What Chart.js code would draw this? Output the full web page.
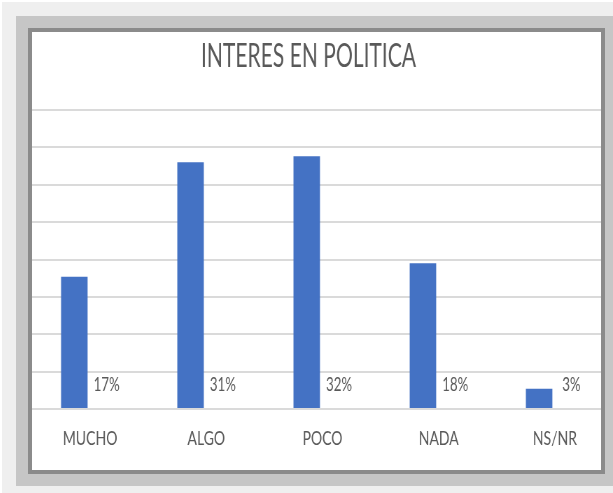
<!DOCTYPE html>
<html>
<head>
<meta charset="utf-8">
<script src="https://cdn.jsdelivr.net/npm/chart.js@4.4.1/dist/chart.umd.min.js"></script>
<style>
  html, body { margin: 0; padding: 0; background: #fff; }
  body { width: 613px; height: 493px; position: relative; overflow: hidden; }
  #marco {
    position: absolute; left: 32px; top: 32px; width: 569px; height: 438px;
    background: #fff; overflow: hidden;
    box-shadow: 0 0 0 4px #8b8b8b, 0 0 0 16px #c6c6c6, 0 0 0 30px #efefef;
  }
  /* la captura original está comprimida en horizontal */
  #grafico { position: absolute; left: 0; top: 0; transform: scaleX(0.7); transform-origin: 0 0; }
</style>
</head>
<body>
<div id="marco"><canvas id="grafico" width="830" height="438"></canvas></div>
<script>
// Datos de la gráfica
var categorias = ['MUCHO', 'ALGO', 'POCO', 'NADA', 'NS/NR'];
var valores = [17.7, 33.0, 33.8, 19.5, 2.7];
var etiquetas = ['17%', '31%', '32%', '18%', '3%'];
var titulo = 'INTERES EN POLITICA';

var grisTexto = '#595959';
var fuente = "Lato, 'Liberation Sans', sans-serif";

// Título dibujado a mano (el original no está centrado en el lienzo)
var tituloPlugin = {
    id: 'tituloPlugin',
    afterDraw: function(chart) {
        var ctx = chart.ctx;
        ctx.save();
        ctx.translate(395, 0);
        ctx.scale(0.94, 1);
        ctx.font = '32px ' + fuente;
        ctx.fillStyle = grisTexto;
        ctx.textAlign = 'center';
        ctx.textBaseline = 'alphabetic';
        ctx.fillText(titulo, 0, 35);
        ctx.restore();
    }
};

// Etiquetas de porcentaje junto a cada barra (posición de la segunda serie)
var etiquetasPlugin = {
    id: 'etiquetasPlugin',
    afterDatasetsDraw: function(chart) {
        var ctx = chart.ctx;
        var meta = chart.getDatasetMeta(1);
        var base = chart.scales.y.getPixelForValue(0);
        ctx.save();
        ctx.font = '19px ' + fuente;
        ctx.fillStyle = grisTexto;
        ctx.textAlign = 'center';
        ctx.textBaseline = 'alphabetic';
        meta.data.forEach(function(el, i) {
            ctx.fillText(etiquetas[i], el.x + 1, base - 18);
        });
        ctx.restore();
    }
};

var ctxInteres = document.getElementById('grafico').getContext('2d');
var interesChart = new Chart(ctxInteres, {
    type: 'bar',
    data: {
        labels: categorias,
        datasets: [{
            label: 'Interés',
            data: valores,
            backgroundColor: '#4472C4',
            borderWidth: 0
        }, {
            label: 'Etiquetas',
            data: categorias.map(function() { return 0; }),
            backgroundColor: 'rgba(0,0,0,0)',
            borderWidth: 0
        }]
    },
    options: {
        responsive: false,
        animation: false,
        devicePixelRatio: 1,
        categoryPercentage: 0.543,
        barPercentage: 0.84,
        layout: { padding: { top: 78, left: 0, right: 0, bottom: 9 } },
        plugins: {
            legend: { display: false },
            tooltip: { enabled: false },
            title: { display: false }
        },
        scales: {
            x: {
                grid: { display: false },
                border: { display: false },
                ticks: { color: grisTexto, padding: 10, font: { family: fuente, size: 20 } }
            },
            y: {
                min: 0,
                max: 40,
                ticks: { display: false, stepSize: 5 },
                grid: { color: '#dadada', lineWidth: 2, drawTicks: false },
                border: { display: false }
            }
        }
    },
    plugins: [tituloPlugin, etiquetasPlugin]
});
</script>
</body>
</html>
